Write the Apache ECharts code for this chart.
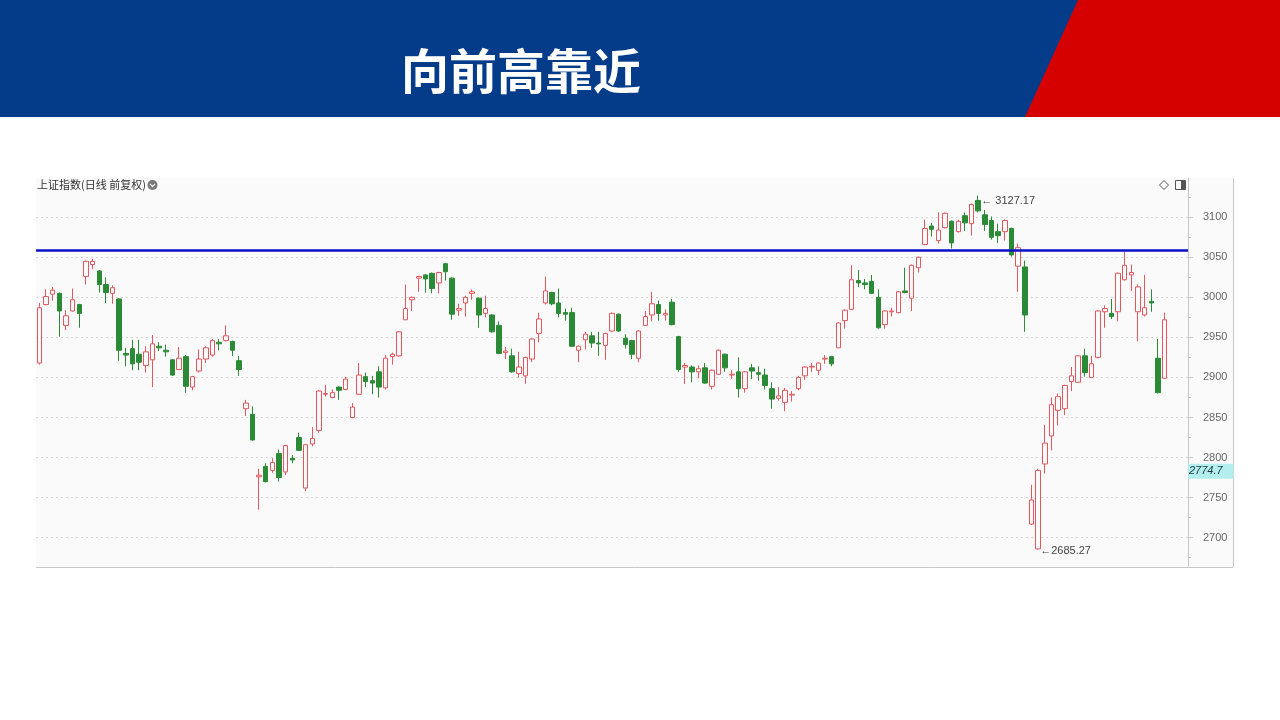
<!DOCTYPE html>
<html><head><meta charset="utf-8">
<script src="https://cdn.jsdelivr.net/npm/echarts@6/dist/echarts.min.js"></script>
<style>html,body{margin:0;padding:0;background:#fff;}#c{width:1280px;height:720px;}</style>
</head><body><div id="c"></div>
<script>
const title = '向前高靠近';
const seriesName = '上证指数(日线 前复权)';
const openV = [2918,2991,3004,3005,2965,2983,2991,3026,3041,3033,3016,3005,2998,2930,2936,2929,2915,2922,2939,2934,
2922,2910,2926,2888,2908,2923,2928,2944,2946,2945,2921,2861,2854,2776,2789,2784,2805,2782,2799,2825,
2762,2817,2834,2879,2875,2888,2885,2850,2879,2901,2896,2907,2887,2926,2927,2972,2997,3024,3028,3030,
3018,3042,3024,2984,2993,3005,2999,2980,2978,2965,2931,2927,2905,2902,2923,2955,2993,3006,2993,2981,
2981,2934,2947,2952,2943,2940,2958,2979,2949,2946,2924,2965,2978,2991,2978,2994,2951,2913,2913,2907,
2912,2889,2904,2929,2903,2907,2886,2912,2906,2903,2886,2874,2869,2878,2886,2902,2913,2909,2923,2926,
2937,2971,2985,3021,3018,3020,3000,2966,2982,2981,3008,2999,3037,3066,3089,3071,3087,3095,3082,3102,
3092,3121,3103,3096,3082,3082,3086,3039,3038,2717,2686,2792,2827,2859,2861,2895,2894,2927,2900,2925,
2982,2980,2982,3022,3028,2982,2978,2995,2924,2899];
const closeV = [2987,3001,3009,2983,2977,2997,2980,3045,3045,3016,3006,3012,2934,2928,2917,2919,2932,2942,2937,2932,
2903,2924,2889,2901,2923,2937,2946,2942,2952,2934,2910,2868,2822,2778,2770,2794,2775,2815,2797,2809,
2816,2824,2883,2880,2881,2884,2898,2863,2903,2895,2893,2888,2924,2929,2957,2986,3000,3026,3023,3011,
3031,3032,2979,2986,3000,3007,2978,2986,2957,2930,2933,2907,2913,2925,2948,2973,3008,2992,2980,2979,
2939,2939,2954,2943,2942,2955,2980,2958,2941,2929,2958,2976,2992,2980,2980,2966,2910,2915,2907,2911,
2893,2909,2934,2912,2904,2886,2907,2908,2904,2890,2873,2877,2884,2879,2900,2913,2914,2918,2924,2917,
2968,2984,3022,3018,3016,3005,2962,2983,2983,3007,3006,3040,3050,3086,3085,3084,3105,3068,3095,3093,
3116,3108,3091,3075,3077,3096,3053,3062,2978,2747,2784,2818,2866,2876,2890,2902,2927,2906,2917,2983,
2986,2976,3030,3040,3031,3013,2987,2993,2881,2972];
const lowV = [2916,2990,2996,2951,2959,2982,2962,3016,3035,3006,2993,2992,2921,2914,2909,2909,2906,2888,2933,2926,
2902,2909,2881,2884,2906,2918,2926,2934,2945,2927,2902,2852,2821,2735,2769,2781,2770,2778,2793,2808,
2758,2814,2831,2876,2874,2872,2884,2849,2878,2888,2879,2875,2885,2916,2926,2972,2983,3007,3006,3005,
3005,3021,2972,2977,2976,2997,2962,2975,2956,2929,2923,2906,2900,2892,2919,2944,2991,2990,2975,2971,
2938,2919,2935,2937,2927,2922,2957,2957,2936,2923,2919,2964,2970,2971,2971,2965,2907,2892,2894,2899,
2892,2885,2903,2907,2898,2875,2881,2898,2896,2885,2861,2871,2858,2870,2884,2897,2907,2903,2917,2914,
2937,2961,2984,3013,3010,3004,2961,2961,2976,2980,3005,2983,3031,3065,3076,3067,3086,3061,3081,3083,
3077,3106,3083,3072,3068,3071,3051,3007,2957,2716,2685.27,2780,2809,2840,2853,2883,2893,2901,2899,2924,
2962,2973,2970,3021,3008,2945,2976,2982,2880,2898];
const highV = [2993,3010,3013,3006,2984,3011,2992,3046,3048,3034,3025,3015,2999,2937,2947,2947,2939,2953,2944,2941,
2923,2938,2928,2902,2935,2939,2948,2948,2965,2946,2927,2872,2864,2786,2793,2799,2810,2816,2803,2831,
2817,2838,2884,2891,2885,2889,2901,2868,2918,2906,2902,2914,2928,2931,2958,3016,3001,3027,3029,3031,
3032,3043,3025,2992,3002,3010,3000,3002,2979,2970,2938,2936,2932,2926,2949,2981,3026,3007,3011,2986,
2987,2940,2957,2957,2957,2956,2981,2980,2954,2947,2959,2983,3007,2996,2985,2998,2952,2918,2915,2915,
2918,2910,2935,2930,2909,2925,2908,2917,2914,2911,2894,2888,2887,2883,2902,2914,2918,2919,2928,2927,
2969,2985,3040,3034,3023,3028,3010,2984,2987,3008,3037,3041,3051,3097,3093,3106,3106,3096,3097,3106,
3117,3127.17,3109,3101,3092,3097,3087,3067,3046,2766,2786,2841,2875,2880,2891,2913,2928,2936,2927,2984,
2990,2998,3031,3057,3041,3016,3028,3010,2948,2981];
const emptySlots = 3;
const yTickLabels = [2700,2750,2800,2850,2900,2950,3000,3050,3100];
const yMinorTicks = [2675,2725,2775,2825,2875,2925,2975,3025,3075,3125];
const resistanceLevel = 3059;
const cursorPrice = 2783;
const cursorLabel = '2774.7';
const maxMark = {idx: 141, value: 3127.17};
const minMark = {idx: 150, value: 2685.27};

const categories = [];
for (let i = 0; i < openV.length + emptySlots; i++) categories.push(String(i + 1));
const kdata = openV.map((o, i) => [o, closeV[i], lowV[i], highV[i]]);

const chart = echarts.init(document.getElementById('c'), null, {renderer: 'canvas'});
const UP = '#e4575e', DOWN = '#2b8a35';
const option = {
  animation: false,
  backgroundColor: '#ffffff',
  graphic: [
    {type: 'rect', left: 0, top: 0, shape: {width: 1280, height: 117}, style: {fill: '#053c8a'}, z: 0},
    {type: 'polygon', shape: {points: [[1078, 0], [1280, 0], [1280, 117], [1025, 117]]}, style: {fill: '#d50000'}, z: 1},
    {type: 'text', left: 401, top: 47, style: {text: title, fill: '#ffffff', font: 'bold 48px "Noto Sans CJK SC", sans-serif'}, z: 2},
    {type: 'rect', left: 36, top: 178, shape: {width: 1197, height: 389}, style: {fill: '#fafafa'}, z: -10, silent: true},
    {type: 'line', shape: {x1: 36, y1: 567.5, x2: 1233, y2: 567.5}, style: {stroke: '#c8c8c8', lineWidth: 1}, z: 5},
    {type: 'line', shape: {x1: 1233.5, y1: 178, x2: 1233.5, y2: 567}, style: {stroke: '#c8c8c8', lineWidth: 1}, z: 5},
    {type: 'text', left: 37, top: 179, style: {text: seriesName, fill: '#333333', font: '11px "Noto Sans CJK SC", sans-serif'}, z: 5},
    {type: 'circle', shape: {cx: 152.5, cy: 185, r: 5}, style: {fill: '#777777'}, z: 5},
    {type: 'polyline', shape: {points: [[150, 184], [152.5, 186.5], [155, 184]]}, style: {stroke: '#ffffff', lineWidth: 1.3, fill: null}, z: 6},
    {type: 'polygon', shape: {points: [[1164, 180.5], [1168.5, 185], [1164, 189.5], [1159.5, 185]]}, style: {fill: 'none', stroke: '#555', lineWidth: 1}, z: 5},
    {type: 'rect', shape: {x: 1175.5, y: 180.5, width: 10, height: 9}, style: {fill: 'none', stroke: '#555', lineWidth: 1}, z: 5},
    {type: 'rect', shape: {x: 1181, y: 181, width: 4, height: 8}, style: {fill: '#555'}, z: 5}
  ],
  grid: {left: 36, right: 92, top: 178, bottom: 153, containLabel: false},
  xAxis: {
    type: 'category', data: categories, boundaryGap: true,
    axisLine: {show: false}, axisTick: {show: false}, axisLabel: {show: false}, splitLine: {show: false}
  },
  yAxis: [{
    type: 'value', position: 'right', min: 2663.4, max: 3149, scale: true,
    axisLine: {show: true, lineStyle: {color: '#c8c8c8'}},
    axisTick: {show: true, inside: false, length: 5, lineStyle: {color: '#c8c8c8'}, customValues: yTickLabels},
    axisLabel: {color: '#666666', fontSize: 11, margin: 15, fontFamily: 'Arial, "Liberation Sans", sans-serif',
      customValues: yTickLabels, formatter: v => String(v)},
    splitLine: {show: true, lineStyle: {color: '#d6d6d6', type: [2, 3], width: 1}},
    axisPointer: {
      show: true, type: 'line', value: cursorPrice, status: 'show', triggerTooltip: false,
      lineStyle: {opacity: 0},
      label: {show: true, formatter: () => cursorLabel, backgroundColor: '#b5eeee', color: '#1a3a3a',
        fontSize: 11, padding: [2, 11, 2, 1], fontStyle: 'italic', borderRadius: 0, borderWidth: 0, margin: 0,
        fontFamily: 'Arial, "Liberation Sans", sans-serif'}
    }
  }, {
    type: 'value', position: 'right', min: 2663.4, max: 3149,
    axisLine: {show: false},
    axisTick: {show: true, length: 3, lineStyle: {color: '#c8c8c8'}, customValues: yMinorTicks},
    axisLabel: {show: false, customValues: yMinorTicks},
    splitLine: {show: false}
  }],
  series: [{
    type: 'candlestick', name: seriesName, data: kdata, barWidth: 5,
    itemStyle: {color: '#fafafa', color0: DOWN, borderColor: UP, borderColor0: DOWN, borderWidth: 1},
    markLine: {
      silent: true, symbol: 'none', label: {show: false},
      lineStyle: {color: '#0a10c8', width: 2.5, type: 'solid'},
      data: [{yAxis: resistanceLevel}]
    },
    markPoint: {
      symbol: 'circle', symbolSize: 0,
      label: {show: true, position: 'right', color: '#444', fontSize: 11, fontFamily: 'Arial, "Liberation Sans", sans-serif'},
      data: [
        {coord: [maxMark.idx, maxMark.value], label: {formatter: '\u2190 ' + maxMark.value.toFixed(2), offset: [-2, 5]}},
        {coord: [minMark.idx, minMark.value], label: {formatter: '\u2190' + minMark.value.toFixed(2), offset: [-3, 1]}}
      ]
    }
  }]
};
chart.setOption(option);
</script></body></html>
